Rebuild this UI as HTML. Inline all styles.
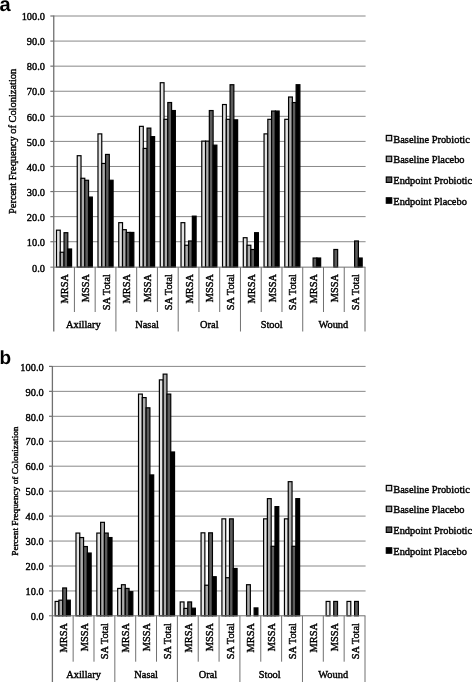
<!DOCTYPE html>
<html><head><meta charset="utf-8"><style>
html,body{margin:0;padding:0;background:#fff;}
svg{display:block}
.t{font-family:'Liberation Serif',serif;font-size:10.4px;fill:#000;stroke:#000;stroke-width:0.4px}
</style></head><body>
<svg width="472" height="682" viewBox="0 0 472 682">
<rect width="472" height="682" fill="#fff"/>
<text x="-0.5" y="10.6" style="font-family:'Liberation Sans',sans-serif;font-weight:bold;font-size:20px;text-rendering:geometricPrecision">a</text>
<line x1="53.65" y1="241.72" x2="365.6" y2="241.72" stroke="#888888" stroke-width="1"/>
<line x1="53.65" y1="216.64" x2="365.6" y2="216.64" stroke="#888888" stroke-width="1"/>
<line x1="53.65" y1="191.56" x2="365.6" y2="191.56" stroke="#888888" stroke-width="1"/>
<line x1="53.65" y1="166.48" x2="365.6" y2="166.48" stroke="#888888" stroke-width="1"/>
<line x1="53.65" y1="141.4" x2="365.6" y2="141.4" stroke="#888888" stroke-width="1"/>
<line x1="53.65" y1="116.32" x2="365.6" y2="116.32" stroke="#888888" stroke-width="1"/>
<line x1="53.65" y1="91.24" x2="365.6" y2="91.24" stroke="#888888" stroke-width="1"/>
<line x1="53.65" y1="66.16" x2="365.6" y2="66.16" stroke="#888888" stroke-width="1"/>
<line x1="53.65" y1="41.08" x2="365.6" y2="41.08" stroke="#888888" stroke-width="1"/>
<line x1="53.65" y1="16" x2="365.6" y2="16" stroke="#888888" stroke-width="1"/>
<text transform="translate(45.05,271.75) scale(1,1.08)" text-anchor="end" class="t">0.0</text>
<line x1="50.35" y1="241.72" x2="53.65" y2="241.72" stroke="#707070" stroke-width="1.2"/>
<text transform="translate(45.05,245.92) scale(1,1.08)" text-anchor="end" class="t">10.0</text>
<line x1="50.35" y1="216.64" x2="53.65" y2="216.64" stroke="#707070" stroke-width="1.2"/>
<text transform="translate(45.05,220.84) scale(1,1.08)" text-anchor="end" class="t">20.0</text>
<line x1="50.35" y1="191.56" x2="53.65" y2="191.56" stroke="#707070" stroke-width="1.2"/>
<text transform="translate(45.05,195.76) scale(1,1.08)" text-anchor="end" class="t">30.0</text>
<line x1="50.35" y1="166.48" x2="53.65" y2="166.48" stroke="#707070" stroke-width="1.2"/>
<text transform="translate(45.05,170.68) scale(1,1.08)" text-anchor="end" class="t">40.0</text>
<line x1="50.35" y1="141.4" x2="53.65" y2="141.4" stroke="#707070" stroke-width="1.2"/>
<text transform="translate(45.05,145.6) scale(1,1.08)" text-anchor="end" class="t">50.0</text>
<line x1="50.35" y1="116.32" x2="53.65" y2="116.32" stroke="#707070" stroke-width="1.2"/>
<text transform="translate(45.05,120.52) scale(1,1.08)" text-anchor="end" class="t">60.0</text>
<line x1="50.35" y1="91.24" x2="53.65" y2="91.24" stroke="#707070" stroke-width="1.2"/>
<text transform="translate(45.05,95.44) scale(1,1.08)" text-anchor="end" class="t">70.0</text>
<line x1="50.35" y1="66.16" x2="53.65" y2="66.16" stroke="#707070" stroke-width="1.2"/>
<text transform="translate(45.05,70.36) scale(1,1.08)" text-anchor="end" class="t">80.0</text>
<line x1="50.35" y1="41.08" x2="53.65" y2="41.08" stroke="#707070" stroke-width="1.2"/>
<text transform="translate(45.05,45.28) scale(1,1.08)" text-anchor="end" class="t">90.0</text>
<line x1="50.35" y1="16" x2="53.65" y2="16" stroke="#707070" stroke-width="1.2"/>
<text transform="translate(45.05,20.2) scale(1,1.08)" text-anchor="end" class="t">100.0</text>
<rect x="56.48" y="230.18" width="3.77" height="36.97" fill="#e2e2e2" stroke="#000" stroke-width="1.2"/>
<rect x="60.25" y="252.25" width="3.77" height="14.9" fill="#ababab" stroke="#000" stroke-width="1.2"/>
<rect x="64.03" y="232.69" width="3.77" height="34.46" fill="#5c5c5c" stroke="#000" stroke-width="1.2"/>
<rect x="67.8" y="248.99" width="3.77" height="18.16" fill="#000000" stroke="#000" stroke-width="1.2"/>
<rect x="77.24" y="155.7" width="3.77" height="111.45" fill="#e2e2e2" stroke="#000" stroke-width="1.2"/>
<rect x="81.01" y="178.27" width="3.77" height="88.88" fill="#ababab" stroke="#000" stroke-width="1.2"/>
<rect x="84.78" y="180.27" width="3.77" height="86.88" fill="#5c5c5c" stroke="#000" stroke-width="1.2"/>
<rect x="88.56" y="197.08" width="3.77" height="70.07" fill="#000000" stroke="#000" stroke-width="1.2"/>
<rect x="97.99" y="133.88" width="3.77" height="133.27" fill="#e2e2e2" stroke="#000" stroke-width="1.2"/>
<rect x="101.77" y="163.47" width="3.77" height="103.68" fill="#ababab" stroke="#000" stroke-width="1.2"/>
<rect x="105.54" y="154.44" width="3.77" height="112.71" fill="#5c5c5c" stroke="#000" stroke-width="1.2"/>
<rect x="109.32" y="180.27" width="3.77" height="86.88" fill="#000000" stroke="#000" stroke-width="1.2"/>
<rect x="118.75" y="222.66" width="3.77" height="44.49" fill="#e2e2e2" stroke="#000" stroke-width="1.2"/>
<rect x="122.52" y="229.68" width="3.77" height="37.47" fill="#ababab" stroke="#000" stroke-width="1.2"/>
<rect x="126.3" y="232.44" width="3.77" height="34.71" fill="#5c5c5c" stroke="#000" stroke-width="1.2"/>
<rect x="130.07" y="232.44" width="3.77" height="34.71" fill="#000000" stroke="#000" stroke-width="1.2"/>
<rect x="139.51" y="126.35" width="3.77" height="140.8" fill="#e2e2e2" stroke="#000" stroke-width="1.2"/>
<rect x="143.28" y="148.42" width="3.77" height="118.73" fill="#ababab" stroke="#000" stroke-width="1.2"/>
<rect x="147.06" y="128.11" width="3.77" height="139.04" fill="#5c5c5c" stroke="#000" stroke-width="1.2"/>
<rect x="150.83" y="136.63" width="3.77" height="130.52" fill="#000000" stroke="#000" stroke-width="1.2"/>
<rect x="160.26" y="82.71" width="3.77" height="184.44" fill="#e2e2e2" stroke="#000" stroke-width="1.2"/>
<rect x="164.04" y="119.33" width="3.77" height="147.82" fill="#ababab" stroke="#000" stroke-width="1.2"/>
<rect x="167.81" y="102.53" width="3.77" height="164.62" fill="#5c5c5c" stroke="#000" stroke-width="1.2"/>
<rect x="171.59" y="110.55" width="3.77" height="156.6" fill="#000000" stroke="#000" stroke-width="1.2"/>
<rect x="181.02" y="222.66" width="3.77" height="44.49" fill="#e2e2e2" stroke="#000" stroke-width="1.2"/>
<rect x="184.79" y="245.23" width="3.77" height="21.92" fill="#ababab" stroke="#000" stroke-width="1.2"/>
<rect x="188.57" y="240.97" width="3.77" height="26.18" fill="#5c5c5c" stroke="#000" stroke-width="1.2"/>
<rect x="192.34" y="216.14" width="3.77" height="51.01" fill="#000000" stroke="#000" stroke-width="1.2"/>
<rect x="201.78" y="141.15" width="3.77" height="126" fill="#e2e2e2" stroke="#000" stroke-width="1.2"/>
<rect x="205.55" y="141.15" width="3.77" height="126" fill="#ababab" stroke="#000" stroke-width="1.2"/>
<rect x="209.33" y="110.55" width="3.77" height="156.6" fill="#5c5c5c" stroke="#000" stroke-width="1.2"/>
<rect x="213.1" y="145.16" width="3.77" height="121.99" fill="#000000" stroke="#000" stroke-width="1.2"/>
<rect x="222.53" y="104.53" width="3.77" height="162.62" fill="#e2e2e2" stroke="#000" stroke-width="1.2"/>
<rect x="226.31" y="119.33" width="3.77" height="147.82" fill="#ababab" stroke="#000" stroke-width="1.2"/>
<rect x="230.08" y="84.72" width="3.77" height="182.43" fill="#5c5c5c" stroke="#000" stroke-width="1.2"/>
<rect x="233.86" y="119.83" width="3.77" height="147.32" fill="#000000" stroke="#000" stroke-width="1.2"/>
<rect x="243.29" y="237.71" width="3.77" height="29.44" fill="#e2e2e2" stroke="#000" stroke-width="1.2"/>
<rect x="247.06" y="245.23" width="3.77" height="21.92" fill="#ababab" stroke="#000" stroke-width="1.2"/>
<rect x="250.84" y="249.49" width="3.77" height="17.66" fill="#5c5c5c" stroke="#000" stroke-width="1.2"/>
<rect x="254.61" y="232.69" width="3.77" height="34.46" fill="#000000" stroke="#000" stroke-width="1.2"/>
<rect x="264.05" y="133.88" width="3.77" height="133.27" fill="#e2e2e2" stroke="#000" stroke-width="1.2"/>
<rect x="267.82" y="119.33" width="3.77" height="147.82" fill="#ababab" stroke="#000" stroke-width="1.2"/>
<rect x="271.59" y="111.05" width="3.77" height="156.1" fill="#5c5c5c" stroke="#000" stroke-width="1.2"/>
<rect x="275.37" y="111.05" width="3.77" height="156.1" fill="#000000" stroke="#000" stroke-width="1.2"/>
<rect x="284.8" y="119.33" width="3.77" height="147.82" fill="#e2e2e2" stroke="#000" stroke-width="1.2"/>
<rect x="288.58" y="97.01" width="3.77" height="170.14" fill="#ababab" stroke="#000" stroke-width="1.2"/>
<rect x="292.35" y="102.53" width="3.77" height="164.62" fill="#5c5c5c" stroke="#000" stroke-width="1.2"/>
<rect x="296.13" y="84.72" width="3.77" height="182.43" fill="#000000" stroke="#000" stroke-width="1.2"/>
<rect x="313.11" y="258.02" width="3.77" height="9.13" fill="#5c5c5c" stroke="#000" stroke-width="1.2"/>
<rect x="316.88" y="258.02" width="3.77" height="9.13" fill="#000000" stroke="#000" stroke-width="1.2"/>
<rect x="333.87" y="249.49" width="3.77" height="17.66" fill="#5c5c5c" stroke="#000" stroke-width="1.2"/>
<rect x="354.62" y="240.97" width="3.77" height="26.18" fill="#5c5c5c" stroke="#000" stroke-width="1.2"/>
<rect x="358.4" y="258.02" width="3.77" height="9.13" fill="#000000" stroke="#000" stroke-width="1.2"/>
<line x1="53.75" y1="15.5" x2="53.75" y2="331.5" stroke="#707070" stroke-width="1.3"/>
<line x1="50.35" y1="267.15" x2="365.4" y2="267.15" stroke="#707070" stroke-width="1"/>
<line x1="74.41" y1="267.15" x2="74.41" y2="312" stroke="#707070" stroke-width="1"/>
<line x1="95.16" y1="267.15" x2="95.16" y2="312" stroke="#707070" stroke-width="1"/>
<line x1="115.92" y1="267.15" x2="115.92" y2="331.5" stroke="#707070" stroke-width="1"/>
<line x1="136.68" y1="267.15" x2="136.68" y2="312" stroke="#707070" stroke-width="1"/>
<line x1="157.43" y1="267.15" x2="157.43" y2="312" stroke="#707070" stroke-width="1"/>
<line x1="178.19" y1="267.15" x2="178.19" y2="331.5" stroke="#707070" stroke-width="1"/>
<line x1="198.95" y1="267.15" x2="198.95" y2="312" stroke="#707070" stroke-width="1"/>
<line x1="219.7" y1="267.15" x2="219.7" y2="312" stroke="#707070" stroke-width="1"/>
<line x1="240.46" y1="267.15" x2="240.46" y2="331.5" stroke="#707070" stroke-width="1"/>
<line x1="261.22" y1="267.15" x2="261.22" y2="312" stroke="#707070" stroke-width="1"/>
<line x1="281.97" y1="267.15" x2="281.97" y2="312" stroke="#707070" stroke-width="1"/>
<line x1="302.73" y1="267.15" x2="302.73" y2="331.5" stroke="#707070" stroke-width="1"/>
<line x1="323.49" y1="267.15" x2="323.49" y2="312" stroke="#707070" stroke-width="1"/>
<line x1="344.24" y1="267.15" x2="344.24" y2="312" stroke="#707070" stroke-width="1"/>
<line x1="365" y1="267.15" x2="365" y2="331.5" stroke="#707070" stroke-width="1"/>
<text transform="translate(68.03,274) rotate(-90)" text-anchor="end" class="t">MRSA</text>
<text transform="translate(88.78,274) rotate(-90)" text-anchor="end" class="t">MSSA</text>
<text transform="translate(109.54,274) rotate(-90)" text-anchor="end" class="t">SA Total</text>
<text transform="translate(130.3,274) rotate(-90)" text-anchor="end" class="t">MRSA</text>
<text transform="translate(151.06,274) rotate(-90)" text-anchor="end" class="t">MSSA</text>
<text transform="translate(171.81,274) rotate(-90)" text-anchor="end" class="t">SA Total</text>
<text transform="translate(192.57,274) rotate(-90)" text-anchor="end" class="t">MRSA</text>
<text transform="translate(213.33,274) rotate(-90)" text-anchor="end" class="t">MSSA</text>
<text transform="translate(234.08,274) rotate(-90)" text-anchor="end" class="t">SA Total</text>
<text transform="translate(254.84,274) rotate(-90)" text-anchor="end" class="t">MRSA</text>
<text transform="translate(275.59,274) rotate(-90)" text-anchor="end" class="t">MSSA</text>
<text transform="translate(296.35,274) rotate(-90)" text-anchor="end" class="t">SA Total</text>
<text transform="translate(317.11,274) rotate(-90)" text-anchor="end" class="t">MRSA</text>
<text transform="translate(337.87,274) rotate(-90)" text-anchor="end" class="t">MSSA</text>
<text transform="translate(358.62,274) rotate(-90)" text-anchor="end" class="t">SA Total</text>
<text transform="translate(83.28,328.4) scale(1,1.08)" text-anchor="middle" class="t">Axillary</text>
<text transform="translate(147.06,328.4) scale(1,1.08)" text-anchor="middle" class="t">Nasal</text>
<text transform="translate(209.33,328.4) scale(1,1.08)" text-anchor="middle" class="t">Oral</text>
<text transform="translate(271.6,328.4) scale(1,1.08)" text-anchor="middle" class="t">Stool</text>
<text transform="translate(333.37,328.4) scale(1,1.08)" text-anchor="middle" class="t">Wound</text>
<text transform="translate(15.7,141.4) rotate(-90)" text-anchor="middle" class="t" style="font-size:10.4px">Percent Frequency of Colonization</text>
<rect x="386.3" y="135.4" width="5.4" height="5.4" fill="#d8d8d8" stroke="#000" stroke-width="1.2"/>
<text transform="translate(393.3,142.6) scale(1,1.08)" class="t">Baseline Probiotic</text>
<rect x="386.3" y="156.2" width="5.4" height="5.4" fill="#a0a0a0" stroke="#000" stroke-width="1.2"/>
<text transform="translate(393.3,163.4) scale(1,1.08)" class="t">Baseline Placebo</text>
<rect x="386.3" y="177" width="5.4" height="5.4" fill="#5a5a5a" stroke="#000" stroke-width="1.2"/>
<text transform="translate(393.3,184.2) scale(1,1.08)" class="t">Endpoint Probiotic</text>
<rect x="386.3" y="197.8" width="5.4" height="5.4" fill="#000" stroke="#000" stroke-width="1.2"/>
<text transform="translate(393.3,205) scale(1,1.08)" class="t">Endpoint Placebo</text>
<text x="-0.5" y="363.9" style="font-family:'Liberation Sans',sans-serif;font-weight:bold;font-size:19px;text-rendering:geometricPrecision">b</text>
<line x1="52.3" y1="590.95" x2="365.6" y2="590.95" stroke="#888888" stroke-width="1"/>
<line x1="52.3" y1="566" x2="365.6" y2="566" stroke="#888888" stroke-width="1"/>
<line x1="52.3" y1="541.05" x2="365.6" y2="541.05" stroke="#888888" stroke-width="1"/>
<line x1="52.3" y1="516.1" x2="365.6" y2="516.1" stroke="#888888" stroke-width="1"/>
<line x1="52.3" y1="491.15" x2="365.6" y2="491.15" stroke="#888888" stroke-width="1"/>
<line x1="52.3" y1="466.2" x2="365.6" y2="466.2" stroke="#888888" stroke-width="1"/>
<line x1="52.3" y1="441.25" x2="365.6" y2="441.25" stroke="#888888" stroke-width="1"/>
<line x1="52.3" y1="416.3" x2="365.6" y2="416.3" stroke="#888888" stroke-width="1"/>
<line x1="52.3" y1="391.35" x2="365.6" y2="391.35" stroke="#888888" stroke-width="1"/>
<line x1="52.3" y1="366.4" x2="365.6" y2="366.4" stroke="#888888" stroke-width="1"/>
<text transform="translate(43.7,620.4) scale(1,1.08)" text-anchor="end" class="t">0.0</text>
<line x1="49" y1="590.95" x2="52.3" y2="590.95" stroke="#707070" stroke-width="1.2"/>
<text transform="translate(43.7,595.15) scale(1,1.08)" text-anchor="end" class="t">10.0</text>
<line x1="49" y1="566" x2="52.3" y2="566" stroke="#707070" stroke-width="1.2"/>
<text transform="translate(43.7,570.2) scale(1,1.08)" text-anchor="end" class="t">20.0</text>
<line x1="49" y1="541.05" x2="52.3" y2="541.05" stroke="#707070" stroke-width="1.2"/>
<text transform="translate(43.7,545.25) scale(1,1.08)" text-anchor="end" class="t">30.0</text>
<line x1="49" y1="516.1" x2="52.3" y2="516.1" stroke="#707070" stroke-width="1.2"/>
<text transform="translate(43.7,520.3) scale(1,1.08)" text-anchor="end" class="t">40.0</text>
<line x1="49" y1="491.15" x2="52.3" y2="491.15" stroke="#707070" stroke-width="1.2"/>
<text transform="translate(43.7,495.35) scale(1,1.08)" text-anchor="end" class="t">50.0</text>
<line x1="49" y1="466.2" x2="52.3" y2="466.2" stroke="#707070" stroke-width="1.2"/>
<text transform="translate(43.7,470.4) scale(1,1.08)" text-anchor="end" class="t">60.0</text>
<line x1="49" y1="441.25" x2="52.3" y2="441.25" stroke="#707070" stroke-width="1.2"/>
<text transform="translate(43.7,445.45) scale(1,1.08)" text-anchor="end" class="t">70.0</text>
<line x1="49" y1="416.3" x2="52.3" y2="416.3" stroke="#707070" stroke-width="1.2"/>
<text transform="translate(43.7,420.5) scale(1,1.08)" text-anchor="end" class="t">80.0</text>
<line x1="49" y1="391.35" x2="52.3" y2="391.35" stroke="#707070" stroke-width="1.2"/>
<text transform="translate(43.7,395.55) scale(1,1.08)" text-anchor="end" class="t">90.0</text>
<line x1="49" y1="366.4" x2="52.3" y2="366.4" stroke="#707070" stroke-width="1.2"/>
<text transform="translate(43.7,370.6) scale(1,1.08)" text-anchor="end" class="t">100.0</text>
<rect x="55.14" y="601.43" width="3.79" height="14.37" fill="#e2e2e2" stroke="#000" stroke-width="1.2"/>
<rect x="58.93" y="600.18" width="3.79" height="15.62" fill="#ababab" stroke="#000" stroke-width="1.2"/>
<rect x="62.72" y="587.96" width="3.79" height="27.84" fill="#5c5c5c" stroke="#000" stroke-width="1.2"/>
<rect x="66.51" y="600.18" width="3.79" height="15.62" fill="#000000" stroke="#000" stroke-width="1.2"/>
<rect x="75.99" y="533.07" width="3.79" height="82.73" fill="#e2e2e2" stroke="#000" stroke-width="1.2"/>
<rect x="79.78" y="537.56" width="3.79" height="78.24" fill="#ababab" stroke="#000" stroke-width="1.2"/>
<rect x="83.57" y="546.54" width="3.79" height="69.26" fill="#5c5c5c" stroke="#000" stroke-width="1.2"/>
<rect x="87.36" y="553.03" width="3.79" height="62.77" fill="#000000" stroke="#000" stroke-width="1.2"/>
<rect x="96.84" y="533.07" width="3.79" height="82.73" fill="#e2e2e2" stroke="#000" stroke-width="1.2"/>
<rect x="100.63" y="522.34" width="3.79" height="93.46" fill="#ababab" stroke="#000" stroke-width="1.2"/>
<rect x="104.42" y="533.07" width="3.79" height="82.73" fill="#5c5c5c" stroke="#000" stroke-width="1.2"/>
<rect x="108.21" y="537.56" width="3.79" height="78.24" fill="#000000" stroke="#000" stroke-width="1.2"/>
<rect x="117.68" y="588.45" width="3.79" height="27.34" fill="#e2e2e2" stroke="#000" stroke-width="1.2"/>
<rect x="121.47" y="584.71" width="3.79" height="31.09" fill="#ababab" stroke="#000" stroke-width="1.2"/>
<rect x="125.26" y="588.45" width="3.79" height="27.34" fill="#5c5c5c" stroke="#000" stroke-width="1.2"/>
<rect x="129.05" y="591.7" width="3.79" height="24.1" fill="#000000" stroke="#000" stroke-width="1.2"/>
<rect x="138.53" y="394.09" width="3.79" height="221.71" fill="#e2e2e2" stroke="#000" stroke-width="1.2"/>
<rect x="142.32" y="397.59" width="3.79" height="218.21" fill="#ababab" stroke="#000" stroke-width="1.2"/>
<rect x="146.11" y="407.82" width="3.79" height="207.98" fill="#5c5c5c" stroke="#000" stroke-width="1.2"/>
<rect x="149.9" y="474.93" width="3.79" height="140.87" fill="#000000" stroke="#000" stroke-width="1.2"/>
<rect x="159.38" y="379.87" width="3.79" height="235.93" fill="#e2e2e2" stroke="#000" stroke-width="1.2"/>
<rect x="163.17" y="374.13" width="3.79" height="241.67" fill="#ababab" stroke="#000" stroke-width="1.2"/>
<rect x="166.96" y="394.09" width="3.79" height="221.71" fill="#5c5c5c" stroke="#000" stroke-width="1.2"/>
<rect x="170.75" y="451.98" width="3.79" height="163.82" fill="#000000" stroke="#000" stroke-width="1.2"/>
<rect x="180.22" y="601.93" width="3.79" height="13.87" fill="#e2e2e2" stroke="#000" stroke-width="1.2"/>
<rect x="184.01" y="608.41" width="3.79" height="7.39" fill="#ababab" stroke="#000" stroke-width="1.2"/>
<rect x="187.8" y="601.93" width="3.79" height="13.87" fill="#5c5c5c" stroke="#000" stroke-width="1.2"/>
<rect x="191.59" y="608.17" width="3.79" height="7.63" fill="#000000" stroke="#000" stroke-width="1.2"/>
<rect x="201.07" y="532.82" width="3.79" height="82.98" fill="#e2e2e2" stroke="#000" stroke-width="1.2"/>
<rect x="204.86" y="585.21" width="3.79" height="30.59" fill="#ababab" stroke="#000" stroke-width="1.2"/>
<rect x="208.65" y="532.82" width="3.79" height="82.98" fill="#5c5c5c" stroke="#000" stroke-width="1.2"/>
<rect x="212.44" y="576.73" width="3.79" height="39.07" fill="#000000" stroke="#000" stroke-width="1.2"/>
<rect x="221.92" y="518.84" width="3.79" height="96.96" fill="#e2e2e2" stroke="#000" stroke-width="1.2"/>
<rect x="225.71" y="577.73" width="3.79" height="38.07" fill="#ababab" stroke="#000" stroke-width="1.2"/>
<rect x="229.5" y="518.84" width="3.79" height="96.96" fill="#5c5c5c" stroke="#000" stroke-width="1.2"/>
<rect x="233.29" y="568.5" width="3.79" height="47.3" fill="#000000" stroke="#000" stroke-width="1.2"/>
<rect x="246.55" y="584.71" width="3.79" height="31.09" fill="#ababab" stroke="#000" stroke-width="1.2"/>
<rect x="254.13" y="607.92" width="3.79" height="7.88" fill="#000000" stroke="#000" stroke-width="1.2"/>
<rect x="263.61" y="518.84" width="3.79" height="96.96" fill="#e2e2e2" stroke="#000" stroke-width="1.2"/>
<rect x="267.4" y="498.63" width="3.79" height="117.17" fill="#ababab" stroke="#000" stroke-width="1.2"/>
<rect x="271.19" y="546.29" width="3.79" height="69.51" fill="#5c5c5c" stroke="#000" stroke-width="1.2"/>
<rect x="274.98" y="506.62" width="3.79" height="109.18" fill="#000000" stroke="#000" stroke-width="1.2"/>
<rect x="284.46" y="518.84" width="3.79" height="96.96" fill="#e2e2e2" stroke="#000" stroke-width="1.2"/>
<rect x="288.25" y="481.67" width="3.79" height="134.13" fill="#ababab" stroke="#000" stroke-width="1.2"/>
<rect x="292.04" y="546.29" width="3.79" height="69.51" fill="#5c5c5c" stroke="#000" stroke-width="1.2"/>
<rect x="295.83" y="498.63" width="3.79" height="117.17" fill="#000000" stroke="#000" stroke-width="1.2"/>
<rect x="326.15" y="601.43" width="3.79" height="14.37" fill="#e2e2e2" stroke="#000" stroke-width="1.2"/>
<rect x="333.73" y="601.43" width="3.79" height="14.37" fill="#5c5c5c" stroke="#000" stroke-width="1.2"/>
<rect x="347" y="601.43" width="3.79" height="14.37" fill="#e2e2e2" stroke="#000" stroke-width="1.2"/>
<rect x="354.58" y="601.43" width="3.79" height="14.37" fill="#5c5c5c" stroke="#000" stroke-width="1.2"/>
<line x1="52.4" y1="365.9" x2="52.4" y2="690" stroke="#707070" stroke-width="1.3"/>
<line x1="49" y1="615.8" x2="365.4" y2="615.8" stroke="#707070" stroke-width="1"/>
<line x1="73.15" y1="615.8" x2="73.15" y2="661.7" stroke="#707070" stroke-width="1"/>
<line x1="93.99" y1="615.8" x2="93.99" y2="661.7" stroke="#707070" stroke-width="1"/>
<line x1="114.84" y1="615.8" x2="114.84" y2="690" stroke="#707070" stroke-width="1"/>
<line x1="135.69" y1="615.8" x2="135.69" y2="661.7" stroke="#707070" stroke-width="1"/>
<line x1="156.53" y1="615.8" x2="156.53" y2="661.7" stroke="#707070" stroke-width="1"/>
<line x1="177.38" y1="615.8" x2="177.38" y2="690" stroke="#707070" stroke-width="1"/>
<line x1="198.23" y1="615.8" x2="198.23" y2="661.7" stroke="#707070" stroke-width="1"/>
<line x1="219.07" y1="615.8" x2="219.07" y2="661.7" stroke="#707070" stroke-width="1"/>
<line x1="239.92" y1="615.8" x2="239.92" y2="690" stroke="#707070" stroke-width="1"/>
<line x1="260.77" y1="615.8" x2="260.77" y2="661.7" stroke="#707070" stroke-width="1"/>
<line x1="281.61" y1="615.8" x2="281.61" y2="661.7" stroke="#707070" stroke-width="1"/>
<line x1="302.46" y1="615.8" x2="302.46" y2="690" stroke="#707070" stroke-width="1"/>
<line x1="323.31" y1="615.8" x2="323.31" y2="661.7" stroke="#707070" stroke-width="1"/>
<line x1="344.15" y1="615.8" x2="344.15" y2="661.7" stroke="#707070" stroke-width="1"/>
<line x1="365" y1="615.8" x2="365" y2="690" stroke="#707070" stroke-width="1"/>
<text transform="translate(66.72,623) rotate(-90)" text-anchor="end" class="t">MRSA</text>
<text transform="translate(87.57,623) rotate(-90)" text-anchor="end" class="t">MSSA</text>
<text transform="translate(108.42,623) rotate(-90)" text-anchor="end" class="t">SA Total</text>
<text transform="translate(129.26,623) rotate(-90)" text-anchor="end" class="t">MRSA</text>
<text transform="translate(150.11,623) rotate(-90)" text-anchor="end" class="t">MSSA</text>
<text transform="translate(170.96,623) rotate(-90)" text-anchor="end" class="t">SA Total</text>
<text transform="translate(191.8,623) rotate(-90)" text-anchor="end" class="t">MRSA</text>
<text transform="translate(212.65,623) rotate(-90)" text-anchor="end" class="t">MSSA</text>
<text transform="translate(233.5,623) rotate(-90)" text-anchor="end" class="t">SA Total</text>
<text transform="translate(254.34,623) rotate(-90)" text-anchor="end" class="t">MRSA</text>
<text transform="translate(275.19,623) rotate(-90)" text-anchor="end" class="t">MSSA</text>
<text transform="translate(296.04,623) rotate(-90)" text-anchor="end" class="t">SA Total</text>
<text transform="translate(316.88,623) rotate(-90)" text-anchor="end" class="t">MRSA</text>
<text transform="translate(337.73,623) rotate(-90)" text-anchor="end" class="t">MSSA</text>
<text transform="translate(358.58,623) rotate(-90)" text-anchor="end" class="t">SA Total</text>
<text transform="translate(83.57,678.2) scale(1,1.08)" text-anchor="middle" class="t">Axillary</text>
<text transform="translate(146.11,678.2) scale(1,1.08)" text-anchor="middle" class="t">Nasal</text>
<text transform="translate(207.95,678.2) scale(1,1.08)" text-anchor="middle" class="t">Oral</text>
<text transform="translate(269.69,678.2) scale(1,1.08)" text-anchor="middle" class="t">Stool</text>
<text transform="translate(333.23,678.2) scale(1,1.08)" text-anchor="middle" class="t">Wound</text>
<text transform="translate(17.8,491.15) rotate(-90)" text-anchor="middle" class="t" style="font-size:9.25px">Percent Frequency of Colonization</text>
<rect x="386.3" y="485.4" width="5.4" height="5.4" fill="#d8d8d8" stroke="#000" stroke-width="1.2"/>
<text transform="translate(393.3,492.6) scale(1,1.08)" class="t">Baseline Probiotic</text>
<rect x="386.3" y="506.2" width="5.4" height="5.4" fill="#a0a0a0" stroke="#000" stroke-width="1.2"/>
<text transform="translate(393.3,513.4) scale(1,1.08)" class="t">Baseline Placebo</text>
<rect x="386.3" y="527" width="5.4" height="5.4" fill="#5a5a5a" stroke="#000" stroke-width="1.2"/>
<text transform="translate(393.3,534.2) scale(1,1.08)" class="t">Endpoint Probiotic</text>
<rect x="386.3" y="547.8" width="5.4" height="5.4" fill="#000" stroke="#000" stroke-width="1.2"/>
<text transform="translate(393.3,555) scale(1,1.08)" class="t">Endpoint Placebo</text>
</svg>
</body></html>
